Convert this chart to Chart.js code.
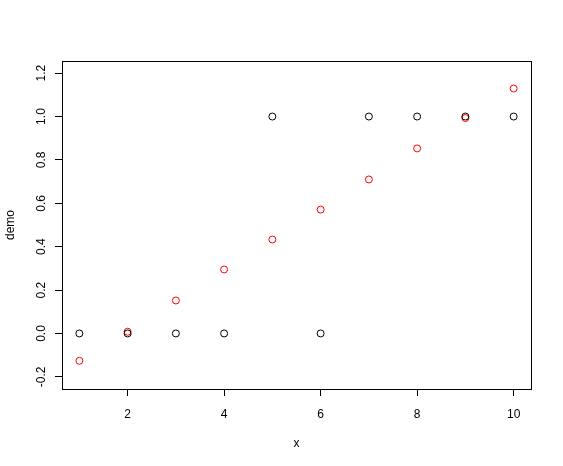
<!DOCTYPE html>
<html>
<head>
<meta charset="utf-8">
<script src="https://cdn.jsdelivr.net/npm/chart.js@4/dist/chart.umd.min.js"></script>
<style>
html,body{margin:0;padding:0;background:#fff;}
#wrap{width:563px;height:466px;position:relative;}
</style>
</head>
<body>
<div id="wrap"><canvas id="c"></canvas></div>
<script>
const xValues = [1, 2, 3, 4, 5, 6, 7, 8, 9, 10];
const demoBlack = [0, 0, 0, 0, 1, 0, 1, 1, 1, 1];
const demoRed = [-0.126, 0.008, 0.152, 0.295, 0.433, 0.571, 0.710, 0.853, 0.993, 1.129];
const xTicks = [2, 4, 6, 8, 10];
const yTicks = [-0.2, 0.0, 0.2, 0.4, 0.6, 0.8, 1.0, 1.2];
const xLabel = 'x';
const yLabel = 'demo';

const FONT = "'Liberation Sans', Arial, sans-serif";

const boxPlugin = {
  id: 'box',
  afterDraw(chart) {
    const a = chart.chartArea, ctx = chart.ctx;
    ctx.save();
    ctx.strokeStyle = '#000';
    ctx.lineWidth = 1;
    ctx.strokeRect(Math.round(a.left) + 0.5, Math.round(a.top) + 0.5,
      Math.round(a.right - a.left), Math.round(a.bottom - a.top));
    ctx.restore();
  }
};

new Chart(document.getElementById('c'), {
  type: 'scatter',
  data: {
    datasets: [
      {
        label: 'black',
        data: xValues.map((x, i) => ({x: x, y: demoBlack[i]})),
        borderColor: '#000000',
        backgroundColor: 'rgba(0,0,0,0)',
        pointRadius: 3.5,
        pointBorderWidth: 1,
        pointHoverRadius: 3.5
      },
      {
        label: 'red',
        data: xValues.map((x, i) => ({x: x, y: demoRed[i]})),
        borderColor: '#ff0000',
        backgroundColor: 'rgba(0,0,0,0)',
        pointRadius: 3.5,
        pointBorderWidth: 1,
        pointHoverRadius: 3.5
      }
    ]
  },
  options: {
    responsive: true,
    maintainAspectRatio: false,
    animation: false,
    devicePixelRatio: 1,
    layout: {padding: {left: 0, top: 61, right: 32, bottom: 0}},
    plugins: {legend: {display: false}, tooltip: {enabled: false}},
    scales: {
      x: {
        type: 'linear',
        min: 0.64,
        max: 10.36,
        afterBuildTicks(s) { s.ticks = xTicks.map(v => ({value: v})); },
        afterFit(s) { s.height = 77; },
        border: {display: false},
        grid: {drawOnChartArea: false, tickLength: 7, color: '#000', lineWidth: 1, drawTicks: true},
        ticks: {color: '#000', font: {family: FONT, size: 12}, padding: 11, maxRotation: 0, minRotation: 0,
          callback: v => String(v)},
        title: {display: true, text: xLabel, color: '#000', font: {family: FONT, size: 12}, padding: {top: 14, bottom: 15}}
      },
      y: {
        type: 'linear',
        min: -0.256,
        max: 1.256,
        afterBuildTicks(s) { s.ticks = yTicks.map(v => ({value: v})); },
        afterFit(s) { s.width = 62; },
        border: {display: false},
        grid: {drawOnChartArea: false, tickLength: 7, color: '#000', lineWidth: 1, drawTicks: true},
        ticks: {color: '#000', font: {family: FONT, size: 12}, padding: 3, minRotation: 90, maxRotation: 90,
          crossAlign: 'center', callback: v => v.toFixed(1)},
        title: {display: true, text: yLabel, color: '#000', font: {family: FONT, size: 12}, padding: {top: 3, bottom: 4}}
      }
    }
  },
  plugins: [boxPlugin]
});
</script>
</body>
</html>
